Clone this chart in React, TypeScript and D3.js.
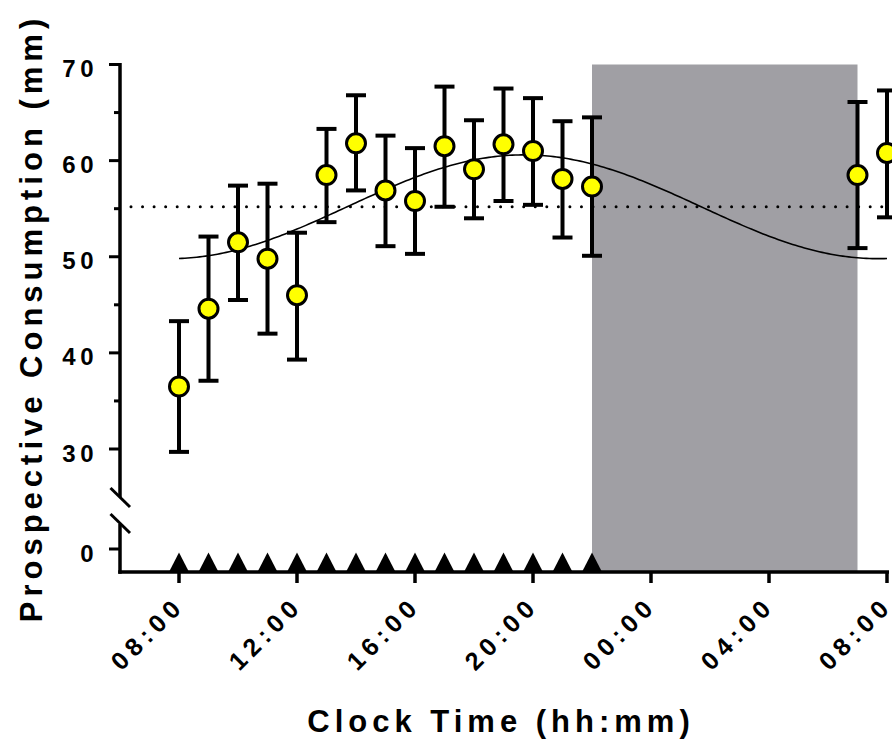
import React from "react";
import * as d3 from "d3";

// ---- data ----
const hours = [8, 9, 10, 11, 12, 13, 14, 15, 16, 17, 18, 19, 20, 21, 22, 31, 32];
const means = [36.5, 44.6, 51.5, 49.8, 46.0, 58.5, 61.8, 56.9, 55.8, 61.5, 59.1, 61.7, 61.0, 58.1, 57.3, 58.5, 60.8];
const uppers = [43.3, 52.1, 57.4, 57.6, 52.5, 63.3, 66.8, 62.6, 61.3, 67.7, 64.2, 67.5, 66.5, 64.1, 64.5, 66.1, 67.3];
const lowers = [29.7, 37.1, 45.5, 42.0, 39.3, 53.6, 56.9, 51.1, 50.3, 55.2, 54.0, 55.8, 55.4, 52.0, 50.1, 50.9, 54.1];
const sessionHours = [8, 9, 10, 11, 12, 13, 14, 15, 16, 17, 18, 19, 20, 21, 22];
const darkPeriod = [22, 31];
const xTickHours = [8, 12, 16, 20, 24, 28, 32];
const xTickLabels = ["08:00", "12:00", "16:00", "20:00", "00:00", "04:00", "08:00"];
const yMajorTicks = [30, 40, 50, 60, 70];
const yMinorTicks = [35, 45, 55, 65];
const cosinorMesor = 55.2;
const cosinorAmplitude = 5.4;
const cosinorAcrophase = 19.7;
const cosinorRange = [8, 32];

const FONT = "'Liberation Sans', Arial, Helvetica, sans-serif";

export default function App() {
  const W = 892, H = 742;
  const x = d3.scaleLinear().domain([6, 32]).range([120, 887]);
  const y = d3.scaleLinear().domain([30, 70]).range([449, 64.5]);
  const yZero = 549;
  const axisY = 572;
  const axisX = 120;

  const curvePts = d3.range(cosinorRange[0], cosinorRange[1] + 0.001, 0.1).map((h) => [
    h,
    cosinorMesor + cosinorAmplitude * Math.cos((2 * Math.PI * (h - cosinorAcrophase)) / 24),
  ]);
  const line = d3
    .line<number[]>()
    .x((d) => x(d[0]))
    .y((d) => y(d[1]));

  const triW = 19, triH = 18.5;

  return (
    <svg
      width={W}
      height={H}
      style={{ position: "absolute", left: 0, top: 0, background: "#fff" }}
      fontFamily={FONT}
      fontWeight="bold"
    >
      {/* dark period */}
      <rect
        x={x(darkPeriod[0])}
        y={y(70)}
        width={x(darkPeriod[1]) - x(darkPeriod[0])}
        height={axisY - y(70)}
        fill="#a09fa4"
      />

      {/* mesor dotted line */}
      <line
        x1={131}
        x2={W}
        y1={y(cosinorMesor)}
        y2={y(cosinorMesor)}
        stroke="#000"
        strokeWidth={3}
        strokeLinecap="round"
        strokeDasharray="0 11.55"
      />

      {/* cosinor curve */}
      <path d={line(curvePts) || ""} fill="none" stroke="#000" strokeWidth={1.6} />

      {/* error bars */}
      {hours.map((h, i) => (
        <g key={"e" + i} stroke="#000" strokeWidth={4}>
          <line x1={x(h)} x2={x(h)} y1={y(uppers[i])} y2={y(lowers[i])} />
          <line x1={x(h) - 10} x2={x(h) + 10} y1={y(uppers[i])} y2={y(uppers[i])} />
          <line x1={x(h) - 10} x2={x(h) + 10} y1={y(lowers[i])} y2={y(lowers[i])} />
        </g>
      ))}

      {/* points */}
      {hours.map((h, i) => (
        <circle key={"p" + i} cx={x(h)} cy={y(means[i])} r={9.5} fill="#ffff00" stroke="#000" strokeWidth={3} />
      ))}

      {/* session triangles */}
      {sessionHours.map((h, i) => (
        <polygon
          key={"t" + i}
          points={`${x(h) - triW / 2},${axisY - 1} ${x(h) + triW / 2},${axisY - 1} ${x(h)},${axisY - 1 - triH}`}
          fill="#000"
        />
      ))}

      {/* y axis with break */}
      <line x1={axisX} x2={axisX} y1={y(70) - 1.5} y2={497} stroke="#000" strokeWidth={3.5} />
      <line x1={axisX} x2={axisX} y1={524} y2={axisY + 1.75} stroke="#000" strokeWidth={3.5} />
      <line x1={110.5} y1={488} x2={130} y2={507} stroke="#000" strokeWidth={3} />
      <line x1={110.5} y1={514} x2={130} y2={533} stroke="#000" strokeWidth={3} />

      {/* y ticks */}
      {yMajorTicks.map((v) => (
        <g key={"ym" + v}>
          <line x1={109} x2={axisX} y1={y(v)} y2={y(v)} stroke="#000" strokeWidth={3} />
          <text x={98} y={y(v) + 4} fontSize={24} letterSpacing={4.5} textAnchor="end" dominantBaseline="central">
            {v}
          </text>
        </g>
      ))}
      {yMinorTicks.map((v) => (
        <line key={"yn" + v} x1={114} x2={axisX} y1={y(v)} y2={y(v)} stroke="#000" strokeWidth={3} />
      ))}
      <line x1={109} x2={axisX} y1={yZero} y2={yZero} stroke="#000" strokeWidth={3} />
      <text x={98} y={yZero + 4} fontSize={24} letterSpacing={4.5} textAnchor="end" dominantBaseline="central">
        0
      </text>

      {/* x axis */}
      <line x1={axisX - 1.75} x2={889} y1={axisY} y2={axisY} stroke="#000" strokeWidth={3.5} />
      {xTickHours.map((h, i) => (
        <g key={"xt" + h}>
          <line x1={x(h)} x2={x(h)} y1={axisY} y2={583} stroke="#000" strokeWidth={3.5} />
          <g transform={`translate(${x(h) + 3},${611}) rotate(-45)`}>
            <text x={-86} y={0} fontSize={25} textLength={86} lengthAdjust="spacing">
              {xTickLabels[i]}
            </text>
          </g>
        </g>
      ))}

      {/* titles */}
      <text x={501} y={732} fontSize={31} letterSpacing={5} textAnchor="middle">
        Clock Time (hh:mm)
      </text>
      <text transform={`translate(42,318) rotate(-90)`} fontSize={31} letterSpacing={5} textAnchor="middle">
        Prospective Consumption (mm)
      </text>
    </svg>
  );
}
